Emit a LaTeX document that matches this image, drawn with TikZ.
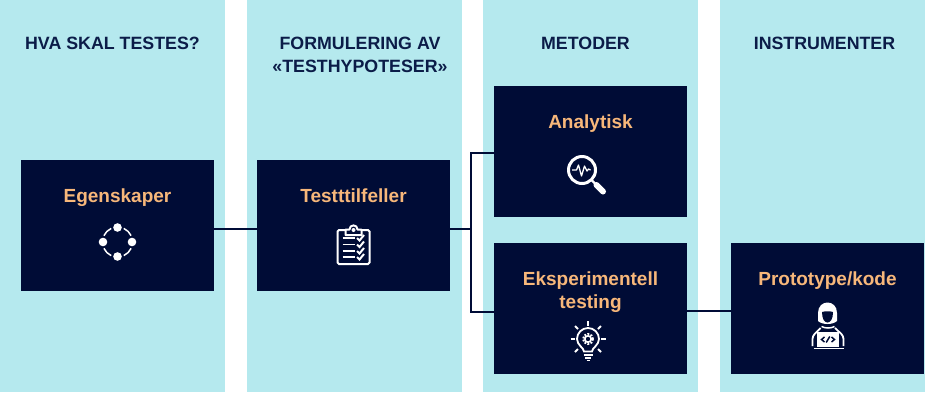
\documentclass[tikz,border=0pt]{standalone}
\usepackage{fontspec}
\setmainfont{Liberation Sans}
\usepackage{tikz}
\usetikzlibrary{positioning}
\definecolor{bandblue}{HTML}{B5E9EE}
\definecolor{boxnavy}{HTML}{000C36}
\definecolor{labelorange}{HTML}{F7B77A}
\definecolor{headnavy}{HTML}{0B1C48}
\tikzset{
  band/.style={fill=bandblue, minimum height=392pt, inner sep=0pt, outer sep=0pt, anchor=north west},
  head/.style={text=headnavy, font=\fontsize{17.8}{23}\selectfont\bfseries, align=center},
  box/.style={fill=boxnavy, minimum width=193pt, minimum height=131pt, inner sep=0pt, outer sep=0pt},
  boxlabel/.style={text=labelorange, font=\fontsize{19}{23}\selectfont\bfseries, align=center},
  link/.style={draw=boxnavy, line width=1.6pt},
  iconline/.style={draw=white, line width=1.3pt},
  iconnet/.pic={
    \draw [iconline, line width=1.5pt] (6.3,-13.6) arc (-65:-25:15) (13.6,6.3) arc (25:65:15)
      (-6.3,13.6) arc (115:155:15) (-13.6,-6.3) arc (205:245:15);
    \foreach \px/\py in {0/-14.5, -14.5/0, 14.5/0, 0/14.5}
      \fill [white] (\px,\py) circle (4.3);
  },
  iconlist/.pic={
    \draw [iconline, line width=2pt, rounded corners=1.5pt] (-7,-14) -- (-16,-14) -- (-16,20) -- (16,20) -- (16,-14) -- (7,-14);
    \draw [iconline, line width=2pt, fill=boxnavy, line join=round] (-8,-9) -- (-8,-14.5) -- (-4,-14.5) .. controls (-4,-20) and (4,-20) .. (4,-14.5) -- (8,-14.5) -- (8,-9) -- cycle;
    \fill [white] (0,-14) circle (2);
    \foreach \py in {-6,0.5,7,13} {
      \draw [iconline, line width=1.8pt] (-11,\py) -- (1,\py);
      \draw [iconline, line width=2pt] (3.5,\py) -- (6,\py+2.5) -- (10.5,\py-3);
    }
  },
  iconlens/.pic={
    \draw [iconline, line width=3pt] (-8.5,-2) circle (13.5);
    \draw [iconline, line width=1.3pt, line join=round] (-18.5,-2) -- (-14,-2) -- (-12,-7) -- (-9,4) -- (-6,-6) -- (-3.5,-1) -- (-2,-3) -- (0,-2);
    \draw [iconline, line width=2.4pt] (1,8) -- (5,12);
    \draw [iconline, line width=6pt, line cap=round] (6,13) -- (12.5,19.5);
  },
  iconbulb/.pic={
    \draw [iconline, line width=1.8pt] (-6.5,12.5) .. controls (-6.5,9) and (-13.5,6) .. (-13.5,0) arc (180:360:11) .. controls (8.5,6) and (1.5,9) .. (1.5,12.5) -- cycle;
    \draw [iconline, line width=1.8pt] (-7,16) -- (2,16) (-5.5,19) -- (0.5,19) (-4,21.5) -- (-1,21.5);
    \draw [iconline, line width=1.6pt] (-2.5,0) circle (3.2);
    \draw [white, line width=2pt, dash pattern=on 1.8pt off 1.4pt] (-2.5,0) circle (5);
    \foreach \rx/\ry/\sx/\sy in {-2.5/-18/-2.5/-13, -15.5/-13/-12.5/-10, 10.5/-13/7.5/-10, -20/0/-15.5/0, 15/0/10.5/0, -15.5/13/-12.5/10, 10.5/13/7.5/10}
      \draw [iconline, line width=1.8pt] (\rx,\ry) -- (\sx,\sy);
  },
  iconcoder/.pic={
    \fill [white] (-9.5,-18) .. controls (-9.5,-32) and (9.5,-32) .. (9.5,-18) -- (9.5,-10) .. controls (5,-6) and (-5,-6) .. (-9.5,-10) -- cycle;
    \fill [boxnavy] (-5.5,-19) .. controls (-2,-20) and (2,-20) .. (5.5,-19) .. controls (5.5,-12) and (3,-8.5) .. (0,-8.5) .. controls (-3,-8.5) and (-5.5,-12) .. (-5.5,-19) -- cycle;
    \draw [iconline, line width=1.8pt, rounded corners=3pt] (-15,15) -- (-15,5) -- (-7,-3) (7.5,-3) -- (16,5) -- (16,15);
    \draw [iconline, line width=1.5pt] (-6,-4.5) .. controls (-2,-2.5) and (3,-2.5) .. (7,-4.5);
    \fill [white] (-10.5,1) rectangle (11.5,16);
    \draw [draw=white, line width=0.8pt] (-14,17) -- (16,17);
    \draw [draw=boxnavy, line width=1.5pt] (-3,6) -- (-6,8.5) -- (-3,11) (4,6) -- (7,8.5) -- (4,11) (2.3,5.5) -- (-1.3,11.5);
  },
}
\begin{document}
\begin{tikzpicture}[x=1pt, y=-1pt]
  \useasboundingbox (0,0) rectangle (925,392);

  \node [band, minimum width=225pt] (bandwhat) at (0,0) {};
  \node [band, minimum width=215pt, right=22pt of bandwhat.north east, anchor=north west] (bandcases) {};
  \node [band, minimum width=215pt, right=21pt of bandcases.north east, anchor=north west] (bandmethods) {};
  \node [band, minimum width=205pt, right=22pt of bandmethods.north east, anchor=north west] (bandtools) {};

  \node [head] (headwhat) at (112.5,43) {HVA SKAL TESTES?};
  \node [head] (headcases) at (360,54.5) {FORMULERING AV\\«TESTHYPOTESER»};
  \node [head] (headmethods) at (585.5,43) {METODER};
  \node [head] (headtools) at (824.5,43) {INSTRUMENTER};

  \node [box] (egenskaper) at (117.5,225.5) {};
  \node [box, right=43pt of egenskaper] (cases) {};
  \node [box] (analytisk) at (590.5,151.5) {};
  \node [box, below=26pt of analytisk] (eksperiment) {};
  \node [box, right=44pt of eksperiment] (prototype) {};

  \node [boxlabel, anchor=base] at ([yshift=-42pt]egenskaper.north) (labelprop) {Egenskaper};
  \node [boxlabel, anchor=base] at ([yshift=-42pt]cases.north) (labelcases) {Testttilfeller};
  \node [boxlabel, anchor=base] at ([yshift=-42pt]analytisk.north) (labelanalytic) {Analytisk};
  \node [boxlabel] at ([yshift=-49pt]eksperiment.north) (labelexperiment) {Eksperimentell\\testing};
  \node [boxlabel, anchor=base] at ([yshift=-42pt]prototype.north) (labelcode) {Prototype/kode};

  \pic at ([yshift=-82pt]egenskaper.north) {iconnet};
  \pic at ([yshift=-84pt]cases.north) {iconlist};
  \pic at ([yshift=-86pt]analytisk.north) {iconlens};
  \pic at ([yshift=-96pt]eksperiment.north) {iconbulb};
  \pic at ([yshift=-88pt]prototype.north) {iconcoder};

  \coordinate (split) at (471,229);
  \draw [link] (egenskaper.east |- split) -- (cases.west |- split);
  \draw [link] (cases.east |- split) -- (split);
  \draw [link] (analytisk.west |- 0,153) -- (471,153) -- (split) -- (471,312) -- (eksperiment.west |- 0,312);
  \draw [link] (eksperiment.east |- 0,311) -- (prototype.west |- 0,311);
\end{tikzpicture}
\end{document}
